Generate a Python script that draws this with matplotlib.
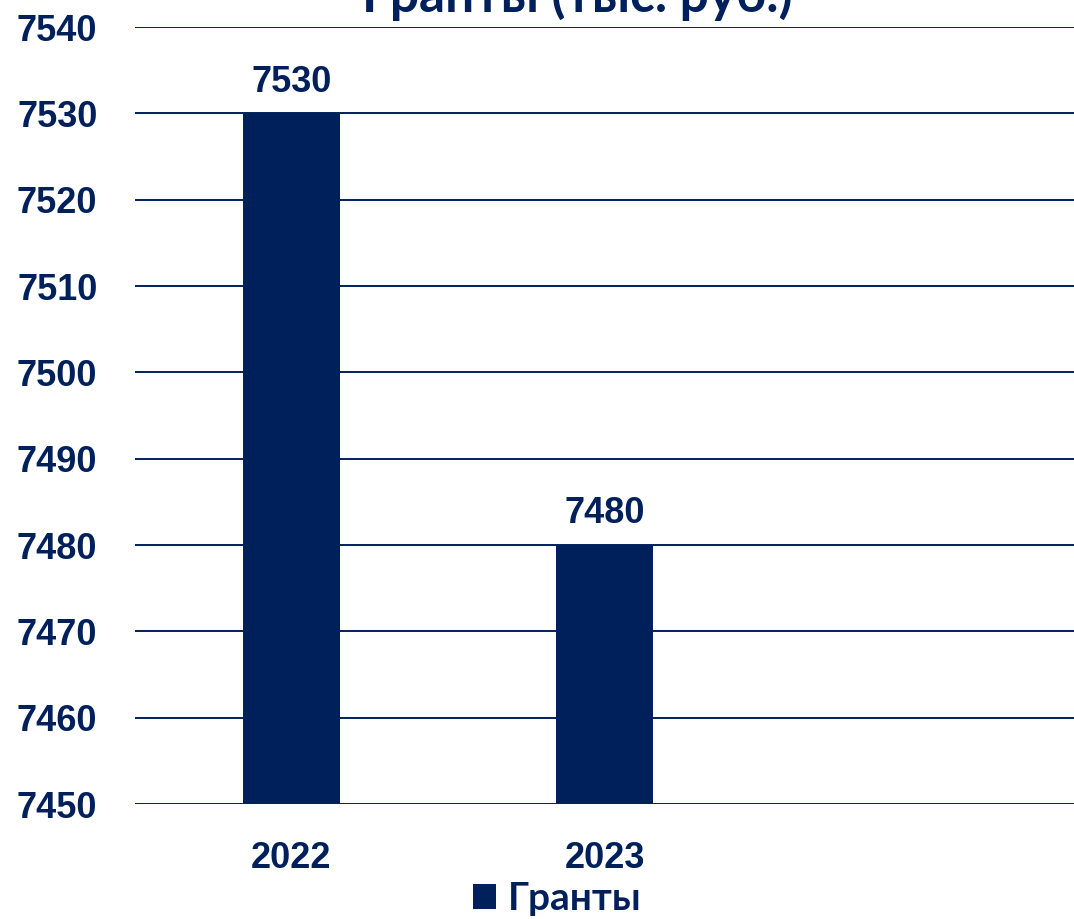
import matplotlib.pyplot as plt

# Data
categories = ["2022", "2023", ""]
values = [7530, 7480, None]
y_ticks = [7450, 7460, 7470, 7480, 7490, 7500, 7510, 7520, 7530, 7540]
title = "Гранты (тыс. руб.)"
series_name = "Гранты"

navy = "#00205B"
num_font = "Liberation Sans"
txt_font = "Lato"

fig = plt.figure(figsize=(10.74, 9.19), dpi=100)
fig.patch.set_facecolor("white")
ax = fig.add_axes([135 / 1074, 1 - 804 / 919, 1 - 135 / 1074, (804 - 27) / 919])

x = list(range(len(categories)))
bar_x = [i for i, v in zip(x, values) if v is not None]
bar_v = [v for v in values if v is not None]
ax.bar(bar_x, [v - y_ticks[0] for v in bar_v], bottom=y_ticks[0], width=0.313,
       color=navy, zorder=3, label=series_name)

for xi, v in zip(bar_x, bar_v):
    ax.text(xi, v + 1.6, str(v), ha="center", va="bottom", fontsize=26,
            fontweight="bold", color=navy, family=num_font)

ax.set_xlim(-0.5, len(categories) - 0.5)
ax.set_ylim(y_ticks[0], y_ticks[-1])
ax.set_yticks(y_ticks)
ax.set_xticks(x)
ax.set_xticklabels(categories)
ax.grid(axis="y", color=navy, linewidth=1.4, zorder=1)
ax.set_axisbelow(True)
for s in ax.spines.values():
    s.set_visible(False)
ax.tick_params(axis="both", length=0, colors=navy)
ax.tick_params(axis="y", pad=27)
ax.tick_params(axis="x", pad=27)
for lab in ax.get_yticklabels() + ax.get_xticklabels():
    lab.set_fontsize(26)
    lab.set_fontweight("bold")
    lab.set_family(num_font)
    lab.set_color(navy)

# title sits partly above the top edge, as in the source image
fig.text(0.538, 1 - 12 / 919, title, ha="center", va="baseline", fontsize=37,
         fontweight="bold", color=navy, family=txt_font)

leg = fig.legend(loc="center", bbox_to_anchor=(557 / 1074, 1 - 899 / 919), frameon=False,
                 handlelength=0.6, handleheight=0.6, handletextpad=0.3,
                 prop={"family": txt_font, "weight": "bold", "size": 28})
for t in leg.get_texts():
    t.set_color(navy)

fig.savefig("out.png", dpi=100, facecolor="white")
